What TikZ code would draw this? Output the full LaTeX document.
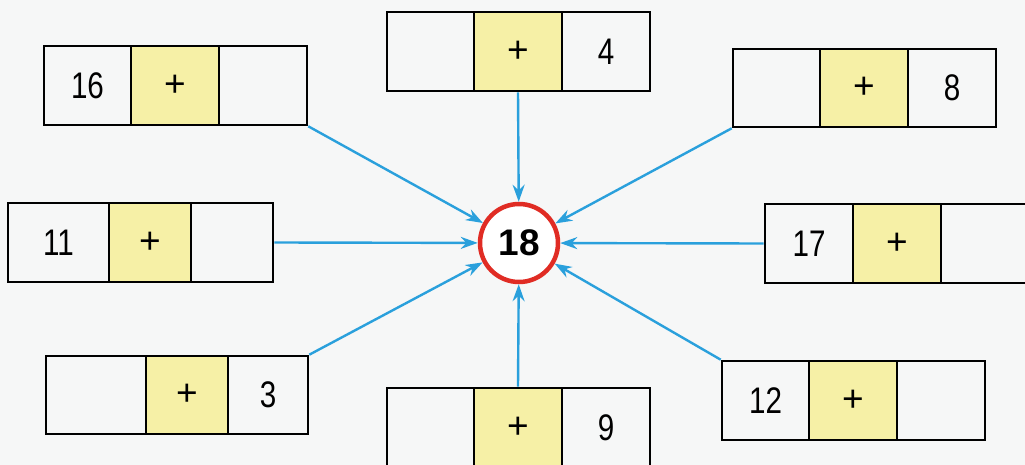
\documentclass[tikz,border=0pt]{standalone}
\usepackage{fontspec}
\setmainfont{Liberation Sans}
\usetikzlibrary{arrows.meta}
\definecolor{cellyellow}{RGB}{246,240,166}
\definecolor{arrowblue}{RGB}{42,160,220}
\definecolor{ringred}{RGB}{224,44,36}
\definecolor{paper}{RGB}{246,247,247}
\newcommand\nar[1]{\scalebox{0.8}[1]{#1}}
\newcommand\cellnode[7]{%
  \pgfmathsetmacro\cw{#4-#3}\pgfmathsetmacro\ch{#6-#5}%
  \node[#1, minimum width=\cw pt, minimum height=\ch pt] (#2) at ({(#3+#4)/2},{(#5+#6)/2}) {#7};}
\tikzset{
  numcell/.style={draw=black, line width=2.6pt, fill=paper, inner sep=0pt, font=\fontsize{37}{37}\selectfont},
  pluscell/.style={numcell, fill=cellyellow},
  arr/.style={draw=arrowblue, line width=2.4pt, -{Stealth[length=17pt,width=12pt]}},
  ring/.style={circle, draw=ringred, line width=4.5pt, fill=white, minimum size=78pt, inner sep=0pt,
    font=\fontsize{37}{37}\selectfont\bfseries}
}
\begin{document}
\begin{tikzpicture}[x=1pt,y=-1pt]
\fill[paper] (0,0) rectangle (1025,465);
\useasboundingbox (0,0) rectangle (1025,465);
% centre
\node[ring] (ctr) at (519,243) {18};
% box 1 (16 + _)
\cellnode{numcell}{a1}{44}{131}{46}{125}{\nar{16}}
\cellnode{pluscell}{a2}{131}{219}{46}{125}{+}
\cellnode{numcell}{a3}{219}{307}{46}{125}{}
% box 2 (_ + 4)
\cellnode{numcell}{b1}{387}{474}{12}{91}{}
\cellnode{pluscell}{b2}{474}{562}{12}{91}{+}
\cellnode{numcell}{b3}{562}{650}{12}{91}{\nar{4}}
% box 3 (_ + 8)
\cellnode{numcell}{c1}{733}{820}{49}{127}{}
\cellnode{pluscell}{c2}{820}{908}{49}{127}{+}
\cellnode{numcell}{c3}{908}{996}{49}{127}{\nar{8}}
% box 4 (11 + _)
\cellnode{numcell}{d1}{8}{109}{203}{282}{\nar{11}}
\cellnode{pluscell}{d2}{109}{191}{203}{282}{+}
\cellnode{numcell}{d3}{191}{273}{203}{282}{}
% box 5 (17 + _)
\cellnode{numcell}{e1}{765}{853}{204}{283}{\nar{17}}
\cellnode{pluscell}{e2}{853}{941}{204}{283}{+}
\cellnode{numcell}{e3}{941}{1029}{204}{283}{}
% box 6 (_ + 3)
\cellnode{numcell}{f1}{46}{146}{356}{434}{}
\cellnode{pluscell}{f2}{146}{228}{356}{434}{+}
\cellnode{numcell}{f3}{228}{308}{356}{434}{\nar{3}}
% box 7 (_ + 9)
\cellnode{numcell}{g1}{387}{474}{388}{468}{}
\cellnode{pluscell}{g2}{474}{562}{388}{468}{+}
\cellnode{numcell}{g3}{562}{650}{388}{468}{\nar{9}}
% box 8 (12 + _)
\cellnode{numcell}{h1}{722}{809}{361}{440}{\nar{12}}
\cellnode{pluscell}{h2}{809}{897}{361}{440}{+}
\cellnode{numcell}{h3}{897}{985}{361}{440}{}
% arrows
\draw[arr] (a3.south east) -- (ctr);
\draw[arr] (b2.south) -- (ctr);
\draw[arr] (c1.south west) -- (ctr);
\draw[arr] (d3.east) -- (ctr);
\draw[arr] (e1.west) -- (ctr);
\draw[arr] (f3.north east) -- (ctr);
\draw[arr] (g2.north) -- (ctr);
\draw[arr] (h1.north west) -- (ctr);
\end{tikzpicture}
\end{document}
